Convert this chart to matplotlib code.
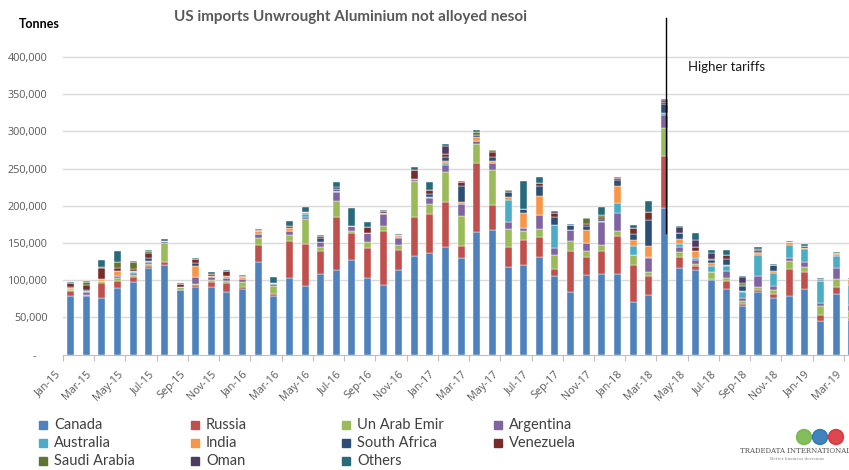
import matplotlib.pyplot as plt
import numpy as np
from matplotlib.patches import Rectangle, Ellipse
from matplotlib.transforms import ScaledTranslation

plt.rcParams['font.family'] = ['Lato', 'DejaVu Sans']

months = ["Jan-15", "Feb-15", "Mar-15", "Apr-15", "May-15", "Jun-15", "Jul-15", "Aug-15", "Sep-15",
          "Oct-15", "Nov-15", "Dec-15", "Jan-16", "Feb-16", "Mar-16", "Apr-16", "May-16", "Jun-16",
          "Jul-16", "Aug-16", "Sep-16", "Oct-16", "Nov-16", "Dec-16", "Jan-17", "Feb-17", "Mar-17",
          "Apr-17", "May-17", "Jun-17", "Jul-17", "Aug-17", "Sep-17", "Oct-17", "Nov-17", "Dec-17",
          "Jan-18", "Feb-18", "Mar-18", "Apr-18", "May-18", "Jun-18", "Jul-18", "Aug-18", "Sep-18",
          "Oct-18", "Nov-18", "Dec-18", "Jan-19", "Feb-19", "Mar-19"]

# thousand tonnes
canada = [79, 79, 76.5, 89, 97, 116, 121, 86.5, 90.5, 90.5, 84.7, 87.4, 124, 78, 103, 92, 108, 114,
          126.6, 103, 92.8, 114, 133, 136.5, 144.6, 129.3, 165.3, 167, 118, 120.3, 130.6, 105, 83.8,
          106.8, 107.7, 107.7, 71.2, 79.7, 197.3, 115.8, 114, 100.5, 88.3, 65.3, 84.7, 76.6, 78,
          88.3, 45, 81.5, 47]
russia = [6, 1.5, 19, 10, 6.8, 3.6, 3, 0.8, 2.7, 6.8, 11.7, 2.7, 23, 4, 49, 56, 31, 71, 36.5, 40.5,
          73, 26, 52, 53, 60.4, 16.7, 92.4, 33.5, 27, 34.2, 27.9, 9.5, 55.9, 23.9, 32, 51.4, 49.6,
          25.2, 69.4, 14.9, 4.5, 1, 10.4, 2.3, 1.8, 5, 36.9, 22, 7.7, 9.5, 2]
uae = [2, 0, 3, 4.5, 2.7, 1.8, 26, 3, 1.8, 3.2, 2.7, 7.2, 10, 10, 9, 34, 5.4, 20.7, 2.3, 7.7, 6.3,
       7.7, 48, 12.2, 40.5, 40.5, 25.2, 47.5, 24, 11.3, 10.8, 18.9, 12.6, 9, 7.7, 6.3, 13.5, 6.3,
       38.3, 6.8, 3.6, 9.9, 4.5, 4.5, 4, 5, 11.3, 7.7, 12.2, 9.9, 9]
argentina = [1.5, 4, 0, 1.5, 2.7, 2.7, 3.2, 1, 9.5, 3.6, 4, 4.5, 5.4, 3.2, 4.5, 2.7, 6.3, 12.6, 7.2,
             12.2, 16.2, 9.5, 3.6, 9, 9.5, 15.3, 3.6, 10, 9, 4, 18.9, 9.5, 15.3, 9.9, 30.6, 24.8, 0,
             18.5, 16.7, 7.2, 4.5, 0, 9.5, 4, 14.4, 5.9, 3.6, 6.3, 5, 14.9, 8]
australia = [0, 0, 0, 0, 1.3, 0, 0, 0, 0, 0, 0, 0, 0, 0, 0, 4.5, 0, 0, 0, 0, 0, 1.3, 0, 1, 1.8, 0,
             0, 0, 29.7, 0, 0, 31.5, 0, 0, 1.8, 13.5, 11.3, 1.8, 2.3, 3.6, 3.2, 7.2, 6.8, 7.7, 29.3,
             17.1, 17.6, 17.1, 28.4, 17.1, 28]
india = [1, 1.5, 3.5, 6.8, 1.8, 2.2, 0, 0, 15, 1.3, 2.2, 2.2, 3.6, 1.3, 4.5, 1.8, 0, 1.3, 0, 0, 1.8,
         2.2, 0, 0, 2.7, 3.6, 6.3, 1.5, 3.6, 20.3, 24.3, 0, 0, 17.6, 0, 22.5, 7.7, 14.4, 0.5, 6.8,
         9.9, 4, 1.3, 1.8, 1.8, 2.3, 3.2, 2.3, 0, 2.3, 7]
south_africa = [1.5, 1.3, 0, 0, 0, 3, 0, 0, 3.6, 0, 0, 0, 0, 0, 0, 0, 6.3, 2.7, 0, 0, 0, 0, 0, 4.5,
                5.4, 20.7, 2.7, 6.5, 7.2, 5.9, 14, 10.4, 6.8, 5.9, 2.7, 9, 8.6, 34.7, 11.7, 8.6, 0,
                4, 7.7, 5.9, 2, 8.6, 0, 2.7, 2, 1, 0]
venezuela = [5, 5.5, 14.5, 4, 2.2, 7.2, 0, 3, 5.4, 2.7, 6.3, 1.3, 1.3, 0, 3.2, 0, 2.2, 0, 0, 7.7,
             2.2, 0, 11.3, 5, 4.5, 5.9, 0, 6.5, 0, 0, 3.6, 5.9, 0, 1.8, 2, 1.5, 8.6, 11.3, 2.7, 0,
             5.4, 1.5, 5.9, 2.3, 2.5, 0, 0, 0, 1.2, 0, 0]
saudi = [0, 4.5, 1, 9, 10, 2.2, 0, 0, 0, 0, 0, 0, 0, 0, 0, 0, 0, 0, 0, 0, 0, 0, 0, 0, 0, 0, 3.6,
         1.8, 2, 0, 0, 0, 0, 8.6, 2.5, 0, 0, 0, 0, 0, 0, 0, 0, 2.3, 0, 0, 0, 0, 0, 0, 0]
oman = [0, 0, 0, 0, 0, 0, 0, 0, 0, 0, 0, 0, 0, 0, 0, 0, 0, 2.7, 0, 0, 0, 0, 0, 0, 10.8, 0, 0, 0, 0,
        0, 0, 1.8, 0, 0, 0, 0, 0, 0, 2.7, 7.2, 8.6, 8.6, 0, 7.7, 1.5, 0, 0, 0, 0, 0, 0]
others = [2, 2, 9.5, 15, 1.8, 1.8, 2.7, 2.2, 1.8, 2.2, 1.8, 1.8, 1.8, 7.7, 6.8, 6.8, 1, 7.2, 24.3,
          6.8, 1.8, 1.3, 3.6, 10.8, 2.7, 1.8, 2.7, 0.5, 1.2, 36.9, 8.6, 0, 1.3, 0, 11.3, 2, 3.2, 14,
          2.2, 1.4, 9.5, 4, 6.3, 1.8, 2.7, 1.8, 2.3, 2.3, 1.8, 2.2, 2]

names = ["Canada", "Russia", "Un Arab Emir", "Argentina", "Australia", "India",
         "South Africa", "Venezuela", "Saudi Arabia", "Oman", "Others"]
series = [canada, russia, uae, argentina, australia, india, south_africa, venezuela, saudi, oman, others]
colors = ["#4F81BD", "#C0504D", "#9BBB59", "#8064A2", "#4BACC6", "#F79646",
          "#2C4D75", "#772C2A", "#5F7530", "#4D3B62", "#276A7C"]

fig = plt.figure(figsize=(8.49, 4.70), dpi=100)
ax = fig.add_axes([0.0741, 0.2457, 0.9383, 0.7123])

x = np.arange(len(months))
bottom = np.zeros(len(months))
for name, vals, col in zip(names, series, colors):
    v = np.array(vals) * 1000
    ax.bar(x, v, 0.45, bottom=bottom, color=col, edgecolor="white", linewidth=0.3, zorder=3)
    bottom += v

ax.set_xlim(-0.5, len(months) - 0.5)
ax.set_ylim(0, 450000)

# y axis
yt = np.arange(0, 400001, 50000)
ax.set_yticks(yt)
ax.set_yticklabels(["-    "] + [f"{v:,}" for v in yt[1:]], family="Open Sans")
ax.tick_params(axis="y", length=0, pad=11, labelsize=7.8, labelcolor="#595959")
for v in yt[1:]:
    ax.axhline(v, color="#d9d9d9", lw=1, zorder=1)

# x axis: tick marks between categories, labels every second month
ax.set_xticks(np.arange(-0.5, len(months), 2))
ax.set_xticklabels([])
ax.tick_params(axis="x", which="major", length=4, color="#bfbfbf", direction="out")
ax.set_xticks(x[::2], minor=True)
ax.set_xticklabels(months[::2], minor=True, rotation=45, ha="right", va="center",
                   rotation_mode="anchor", fontsize=7.8, color="#595959", family="Open Sans")
ax.tick_params(axis="x", which="minor", length=0, pad=13)
for lab in ax.get_xticklabels(minor=True):
    lab.set_transform(lab.get_transform() + ScaledTranslation(-0.12, 0, fig.dpi_scale_trans))

for s in ["left", "top", "right"]:
    ax.spines[s].set_visible(False)
ax.spines["bottom"].set_color("#bfbfbf")

# tariff marker
ax.plot([38.1, 38.1], [163000, 452000], color="black", lw=1, zorder=5, clip_on=False)
fig.text(688 / 849, 1 - 67 / 470, "Higher tariffs", fontsize=9.5, va="center", color="#1a1a1a")

fig.text(0.413, 1 - 17 / 470, "US imports Unwrought Aluminium not alloyed nesoi",
         fontsize=11, fontweight="bold", color="#595959", ha="center", va="center")
fig.text(19 / 849, 1 - 24 / 470, "Tonnes", fontsize=9, fontweight="bold", va="center")

# legend, row by row
col_x = [43, 195, 346, 498]
row_y = [425, 443, 461]
for i, (name, col) in enumerate(zip(names, colors)):
    px = col_x[i % 4]
    py = row_y[i // 4]
    fig.add_artist(Rectangle(((px - 4) / 849, 1 - (py + 4) / 470), 8 / 849, 8 / 470,
                             transform=fig.transFigure, color=col))
    fig.text((px + 11) / 849, 1 - py / 470, name, fontsize=10.5, va="center", color="#404040")

# logo
for cx, cc in zip([804, 820, 836], ["#6DB33F", "#1F6FB2", "#D7282F"]):
    fig.add_artist(Ellipse((cx / 849, 1 - 437 / 470), 15 / 849, 15 / 470, transform=fig.transFigure,
                           color=cc, alpha=0.85))
fig.text(795 / 849, 1 - 451 / 470, "TRADEDATA INTERNATIONAL", fontsize=5, family="DejaVu Serif",
         color="#555555", ha="center", va="center")
fig.text(770 / 849, 1 - 459 / 470, "Better business decisions", fontsize=3, family="DejaVu Serif",
         color="#888888", va="center")

fig.savefig("out.png", dpi=100)
